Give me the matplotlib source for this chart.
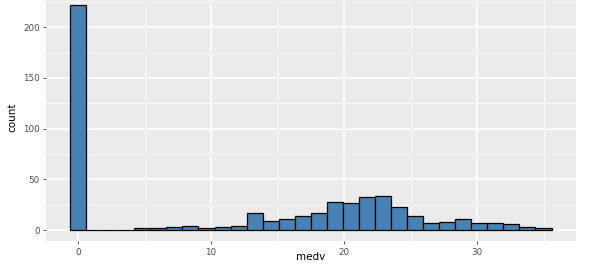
import numpy as np
import matplotlib.pyplot as plt

# histogram of medv, 30 bins (ggplot default), counts
binwidth = 35 / 29
bin_centers = np.arange(30) * binwidth
counts = [222, 0, 0, 0, 2, 2, 3, 4, 2, 3, 4, 17, 9, 11, 14, 17, 28, 27,
          33, 34, 23, 14, 7, 8, 11, 7, 7, 6, 3, 2]
x_ticks = [0, 10, 20, 30]
y_ticks = [0, 50, 100, 150, 200]

W, H = 613, 268
fig = plt.figure(figsize=(W / 100, H / 100), dpi=100)

# panel placement in pixels (top slightly cut off, as in the reference)
left, right, bottom, top = 46, 575.6, 241.3, -6.3
ax = fig.add_axes([left / W, (H - bottom) / H, (right - left) / W, (bottom - top) / H])
ax.set_facecolor('#EBEBEB')

ax.bar(bin_centers, counts, width=binwidth, color='#4682B4',
       edgecolor='black', linewidth=0.9, zorder=3)

xmin, xmax = bin_centers[0] - binwidth / 2, bin_centers[-1] + binwidth / 2
xpad = 0.05 * (xmax - xmin)
ax.set_xlim(xmin - xpad, xmax + xpad)
ypad = 0.05 * max(counts)
ax.set_ylim(-ypad, max(counts) + ypad)

ax.set_xticks(x_ticks)
ax.set_yticks(y_ticks)
ax.set_xticks([5, 15, 25, 35], minor=True)
ax.set_yticks([25, 75, 125, 175, 225], minor=True)
ax.grid(which='major', color='white', linewidth=1.1, zorder=0)
ax.grid(which='minor', color='white', linewidth=0.55, zorder=0)
ax.set_axisbelow(True)

for s in ax.spines.values():
    s.set_visible(False)

ax.tick_params(axis='both', which='major', length=2.5, width=0.6,
               color='#333333', labelcolor='#4D4D4D', labelsize=6.3, pad=2)
ax.tick_params(axis='both', which='minor', length=0)

ax.set_xlabel('medv', fontsize=7.5, labelpad=-3, color='black')
ax.set_ylabel('count', fontsize=7.5, labelpad=4, color='black')

fig.savefig('out.png', dpi=100)
